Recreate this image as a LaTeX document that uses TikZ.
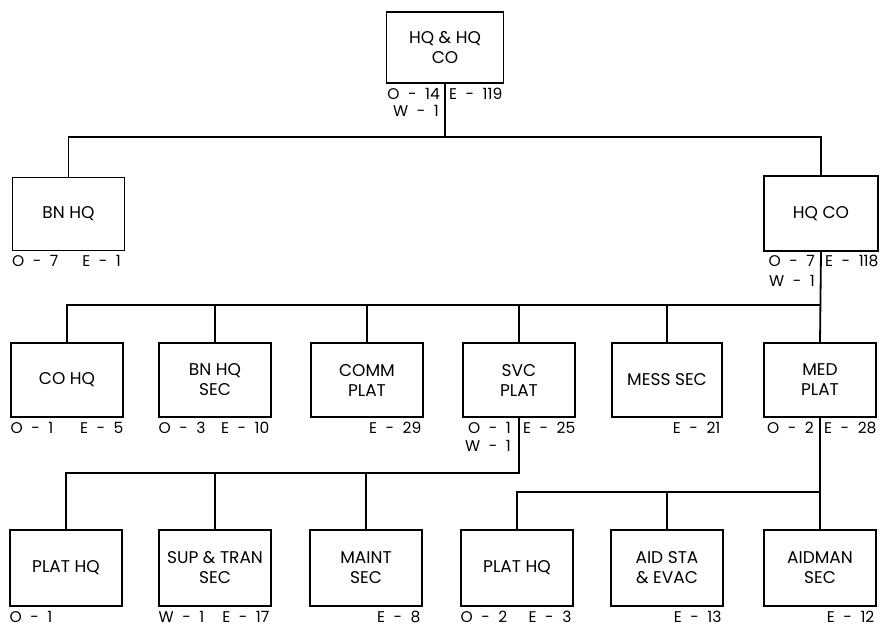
\documentclass[tikz,border=0pt]{standalone}
\usepackage{fontspec}
\newfontfamily\orgfont{Poppins}
\newcommand\lblfontcmd{\orgfont\fontsize{15.5}{18}\selectfont\spaceskip=0.55em\relax}
\usetikzlibrary{calc}
\begin{document}
\begin{tikzpicture}[x=1pt,y=-1pt,
  unit/.style={draw,line width=1.2pt,align=center,inner sep=2pt,
    font=\orgfont\fontsize{17}{20}\selectfont,minimum width=112pt,minimum height=74pt},
  conn/.style={line width=1.8pt},
  lbl/.style={inner sep=0pt,font=\lblfontcmd}]
\useasboundingbox (0,0) rectangle (883,629);
% row 1
\node[unit,minimum width=117pt,minimum height=71pt] (top) at (445,47.5) {HQ \& HQ\\CO};
% row 2
\node[unit,minimum height=73pt] (bnhq) at (68.5,214) {BN HQ};
\node[unit,minimum width=114pt,minimum height=75pt] (hqco) at (821,213.5) {HQ CO};
% row 3
\node[unit] (cohq) at (67,380) {CO HQ};
\node[unit] (bnhqsec) at (215,380) {BN HQ\\SEC};
\node[unit] (comm) at (367,380) {COMM\\PLAT};
\node[unit] (svc) at (519,380) {SVC\\PLAT};
\node[unit,minimum width=110pt] (mess) at (667,380) {MESS SEC};
\node[unit] (med) at (820,380) {MED\\PLAT};
% row 4
\node[unit,minimum height=76pt] (plathqa) at (66,568) {PLAT HQ};
\node[unit,minimum height=76pt] (suptran) at (215,568) {SUP \& TRAN\\SEC};
\node[unit,minimum height=76pt] (maint) at (366,568) {MAINT\\SEC};
\node[unit,minimum height=76pt] (plathqb) at (517,568) {PLAT HQ};
\node[unit,minimum height=76pt] (aidsta) at (667,568) {AID STA\\\& EVAC};
\node[unit,minimum height=76pt] (aidman) at (820,568) {AIDMAN\\SEC};
% bus levels
\coordinate (b2) at (0,137);
\coordinate (b3) at (0,305);
\coordinate (b4) at (0,473);
\coordinate (b5) at (0,492);
% connectors
\draw[conn] (top.south) -- (top.south |- b2);
\draw[conn] (bnhq.north) -- (bnhq.north |- b2) -- (hqco.north |- b2) -- (hqco.north);
\draw[conn] (hqco.south) -- (med.north);
\draw[conn] (cohq.north) -- (cohq.north |- b3) -- (med.north |- b3);
\foreach \n in {bnhqsec,comm,svc,mess} \draw[conn] (\n.north) -- (\n.north |- b3);
\draw[conn] (svc.south) -- (svc.south |- b4) -- (plathqa.north |- b4) -- (plathqa.north);
\foreach \n in {suptran,maint} \draw[conn] (\n.north) -- (\n.north |- b4);
\draw[conn] (med.south) -- (aidman.north);
\draw[conn] (plathqb.north) -- (plathqb.north |- b5) -- (aidman.north |- b5);
\draw[conn] (aidsta.north) -- (aidsta.north |- b5);
% labels split by line
\node[lbl,anchor=base east] (l1) at ($(top.south)+(-5,16)$) {O - 14};
\node[lbl,anchor=base west] (l2) at ($(top.south)+(4,16)$) {E - 119};
\node[lbl,anchor=base east] (l3) at ($(top.south)+(-6,33)$) {W - 1};
\node[lbl,anchor=base east] (l4) at ($(hqco.south)+(-6,15)$) {O - 7};
\node[lbl,anchor=base west] (l5) at ($(hqco.south)+(4,15)$) {E - 118};
\node[lbl,anchor=base east] (l6) at ($(hqco.south)+(-6,35)$) {W - 1};
\node[lbl,anchor=base east] (l7) at ($(svc.south)+(-8,16)$) {O - 1};
\node[lbl,anchor=base west] (l8) at ($(svc.south)+(4,16)$) {E - 25};
\node[lbl,anchor=base east] (l9) at ($(svc.south)+(-8,34)$) {W - 1};
\node[lbl,anchor=base east] (l10) at ($(med.south)+(-6,16)$) {O - 2};
\node[lbl,anchor=base west] (l11) at ($(med.south)+(4,16)$) {E - 28};
% labels corner
\node[lbl,anchor=base west] (l12) at ($(bnhq.south west)+(0,15)$) {O - 7};
\node[lbl,anchor=base east] (l13) at ($(bnhq.south east)+(-4,15)$) {E - 1};
\node[lbl,anchor=base west] (l14) at ($(cohq.south west)+(0,16)$) {O - 1};
\node[lbl,anchor=base east] (l15) at ($(cohq.south east)+(0,16)$) {E - 5};
\node[lbl,anchor=base west] (l16) at ($(bnhqsec.south west)+(0,16)$) {O - 3};
\node[lbl,anchor=base east] (l17) at ($(bnhqsec.south east)+(-2,16)$) {E - 10};
\node[lbl,anchor=base east] (l18) at ($(comm.south east)+(-2,16)$) {E - 29};
\node[lbl,anchor=base east] (l19) at ($(mess.south east)+(-2,16)$) {E - 21};
\node[lbl,anchor=base west] (l20) at ($(plathqa.south west)+(0,16)$) {O - 1};
\node[lbl,anchor=base west] (l21) at ($(suptran.south west)+(0,16)$) {W - 1};
\node[lbl,anchor=base east] (l22) at ($(suptran.south east)+(-2,16)$) {E - 17};
\node[lbl,anchor=base east] (l23) at ($(maint.south east)+(-2,16)$) {E - 8};
\node[lbl,anchor=base west] (l24) at ($(plathqb.south west)+(0,16)$) {O - 2};
\node[lbl,anchor=base east] (l25) at ($(plathqb.south east)+(-2,16)$) {E - 3};
\node[lbl,anchor=base east] (l26) at ($(aidsta.south east)+(-2,16)$) {E - 13};
\node[lbl,anchor=base east] (l27) at ($(aidman.south east)+(-2,16)$) {E - 12};
\end{tikzpicture}
\end{document}
